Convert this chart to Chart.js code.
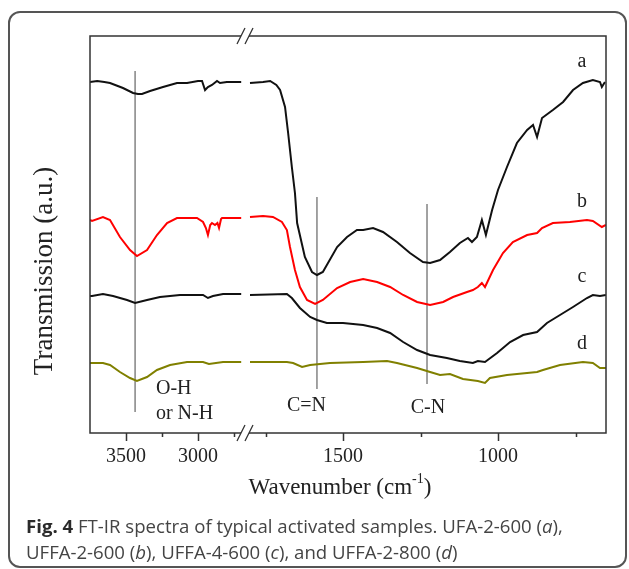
<!DOCTYPE html>
<html lang="en">
<head>
  <meta charset="UTF-8">
  <title>FT-IR spectra of typical activated samples</title>
  <script src="https://cdn.jsdelivr.net/npm/chart.js"></script>
  <style>
    html, body { margin: 0; padding: 0; background: #fff; }
    #wrap { position: absolute; left: 0; top: 0; width: 629px; height: 569px; }
    #frame {
      position: absolute; left: 8px; top: 11px; width: 615px; height: 553px;
      border: 2px solid #555; border-radius: 12px;
    }
    #caption {
      position: absolute; left: 26px; top: 513px; white-space: nowrap;
      font-family: 'Open Sans', sans-serif; font-size: 18.6px; line-height: 26px; color: #444;
    }
    #caption b { color: #2a2a2a; }
  </style>
</head>
<body>
  <div id="frame"></div>
  <div id="wrap"><canvas id="chart"></canvas></div>
  <div id="caption"><b>Fig. 4</b> FT-IR spectra of typical activated samples. UFA-2-600 (<i>a</i>),<br>UFFA-2-600 (<i>b</i>), UFFA-4-600 (<i>c</i>), and UFFA-2-800 (<i>d</i>)</div>

  <script>
    // x axis ticks (cm-1)
    const axisTicks = [3500, 3000, 1500, 1000];
    const minorTicks = [3250, 2750, 1750, 1250, 750];

    // spectra: wavenumber (cm-1) and transmission (a.u., offset per sample)
    const waveA = [3750, 3700, 3650, 3611, 3521, 3451, 3417, 3389, 3333, 3243, 3146, 3076, 3000, 2972, 2951, 2931, 2903, 2868, 2847, 2800, 2750, 2700,
      1800, 1758, 1735, 1715, 1703, 1687, 1677, 1665, 1655, 1648, 1623, 1600, 1584, 1565, 1519, 1487, 1455, 1435, 1403, 1371,
      1326, 1284, 1242, 1219, 1187, 1155, 1123, 1097, 1084, 1068, 1052, 1039, 1019, 1000, 971, 939, 906, 887, 874, 858,
      823, 790, 758, 726, 694, 671, 665, 655];
    const transA = [351, 352, 351, 350, 345, 340, 339, 339, 342, 346, 350, 350, 352, 352, 343, 346, 348, 352, 350, 351, 351, 351,
      350, 351, 352, 348, 343, 326, 300, 266, 240, 210, 176, 161, 158, 161, 186, 196, 203, 203, 205, 201,
      191, 180, 171, 170, 173, 181, 190, 195, 191, 196, 213, 198, 223, 243, 266, 290, 303, 308, 296, 315,
      323, 331, 343, 350, 353, 351, 346, 351];

    const waveB = [3750, 3736, 3660, 3611, 3542, 3472, 3424, 3354, 3285, 3215, 3146, 3007, 2965, 2945, 2931, 2915, 2903, 2882, 2865, 2854, 2840, 2833, 2700,
      1800, 1758, 1726, 1697, 1681, 1671, 1655, 1639, 1616, 1590, 1565, 1519, 1477, 1435, 1390, 1348, 1306, 1261, 1219, 1177,
      1145, 1100, 1081, 1065, 1052, 1042, 1016, 984, 952, 906, 874, 858, 823, 768, 713, 694, 665, 652];
    const transB = [213, 212, 216, 213, 196, 183, 177, 183, 198, 210, 215, 215, 211, 205, 198, 208, 210, 208, 210, 205, 214, 215, 215,
      216, 217, 216, 211, 203, 186, 163, 146, 133, 129, 133, 145, 151, 154, 151, 146, 138, 131, 128, 131,
      136, 141, 143, 146, 150, 146, 163, 180, 191, 198, 200, 205, 210, 211, 213, 212, 206, 208];

    const waveC = [3750, 3736, 3660, 3590, 3493, 3437, 3354, 3264, 3125, 2965, 2931, 2896, 2826, 2700,
      1800, 1681, 1665, 1639, 1606, 1584, 1552, 1500, 1435, 1390, 1348, 1306, 1261, 1219, 1165, 1123, 1081, 1065, 1042,
      1003, 961, 919, 874, 842, 800, 758, 713, 694, 671, 652];
    const transC = [137, 137, 139, 137, 133, 130, 133, 136, 138, 138, 135, 137, 139, 139,
      138, 139, 135, 125, 116, 113, 110, 110, 108, 105, 100, 91, 83, 78, 75, 72, 70, 72, 71,
      80, 91, 98, 101, 110, 118, 126, 135, 138, 137, 138];

    const waveD = [3750, 3736, 3660, 3611, 3542, 3472, 3424, 3354, 3285, 3194, 3076, 2965, 2924, 2826, 2700,
      1800, 1681, 1661, 1632, 1606, 1542, 1435, 1358, 1326, 1261, 1219, 1187, 1155, 1113, 1065, 1042, 1026,
      971, 874, 855, 800, 726, 694, 671, 652];
    const transD = [70, 70, 70, 68, 61, 55, 52, 56, 63, 68, 71, 71, 69, 71, 71,
      71, 71, 70, 66, 68, 70, 71, 72, 70, 65, 61, 58, 59, 54, 52, 50, 55,
      58, 61, 63, 68, 71, 70, 65, 65];

    // band marker lines
    const markWave = [3437, 1584, 1229];
    const markTop = [362, 236, 229];
    const markBottom = [21, 44, 49];

    const seriesNames = ['a', 'b', 'c', 'd'];
    const seriesColors = ['#111', '#ff0000', '#111', '#808000'];

    // broken axis: 3750-2700 on the left part, 1800-650 on the right part
    const AXIS_MAX = 516, BREAK_AXIS = 155, BREAK_W = 2250;
    function toAxis(w) {
      return w > BREAK_W ? (3750 - w) * 0.144 : 160 + (1800 - w) * 0.31;
    }

    function toPoints(wave, trans) {
      const pts = [];
      wave.forEach((w, i) => {
        if (i > 0 && wave[i - 1] > BREAK_W && w < BREAK_W) pts.push({ x: BREAK_AXIS, y: null });
        pts.push({ x: toAxis(w), y: trans[i] });
      });
      return pts;
    }

    const serif = '"Liberation Serif", "Times New Roman", serif';
    const spectra = [[waveA, transA], [waveB, transB], [waveC, transC], [waveD, transD]];
    const datasets = spectra.map(([w, t], i) => ({
      label: seriesNames[i], data: toPoints(w, t),
      borderColor: seriesColors[i], borderWidth: 2, pointRadius: 0, tension: 0
    }));
    markWave.forEach((w, i) => datasets.push({
      label: 'mark' + i,
      data: [{ x: toAxis(w), y: markTop[i] }, { x: toAxis(w), y: markBottom[i] }],
      borderColor: '#666', borderWidth: 1.2, pointRadius: 0
    }));

    const letterPos = { w: 729, t: [371, 231, 156, 89] };
    const notes = [
      { text: 'O-H', w: 3292, t: 44, align: 'left' },
      { text: 'or N-H', w: 3292, t: 19, align: 'left' },
      { text: 'C=N', w: 1618, t: 27, align: 'center' },
      { text: 'C-N', w: 1226, t: 25, align: 'center' }
    ];

    const decor = {
      id: 'decor',
      afterDatasetsDraw(chart) {
        const { ctx, chartArea: a, scales: { x, y } } = chart;
        ctx.save();
        ctx.strokeStyle = '#333';
        ctx.lineWidth = 1.5;
        ctx.strokeRect(a.left, a.top, a.right - a.left, a.bottom - a.top);

        ctx.beginPath();
        axisTicks.forEach(w => {
          const px = Math.round(x.getPixelForValue(toAxis(w))) + 0.5;
          ctx.moveTo(px, a.bottom); ctx.lineTo(px, a.bottom + 8);
        });
        minorTicks.forEach(w => {
          const px = Math.round(x.getPixelForValue(toAxis(w))) + 0.5;
          ctx.moveTo(px, a.bottom); ctx.lineTo(px, a.bottom + 4);
        });
        ctx.stroke();

        // axis break marks
        const bx = x.getPixelForValue(BREAK_AXIS);
        [a.top, a.bottom].forEach(by => {
          ctx.fillStyle = '#fff';
          ctx.fillRect(bx - 4, by - 2, 8, 4);
          ctx.beginPath();
          ctx.moveTo(bx - 8, by + 8); ctx.lineTo(bx, by - 8);
          ctx.moveTo(bx, by + 8); ctx.lineTo(bx + 8, by - 8);
          ctx.lineWidth = 1.3;
          ctx.stroke();
        });

        ctx.fillStyle = '#222';
        ctx.font = '20px ' + serif;
        ctx.textBaseline = 'middle';
        ctx.textAlign = 'center';
        seriesNames.forEach((s, i) => {
          ctx.fillText(s, x.getPixelForValue(toAxis(letterPos.w)), y.getPixelForValue(letterPos.t[i]));
        });
        notes.forEach(n => {
          ctx.textAlign = n.align;
          ctx.fillText(n.text, x.getPixelForValue(toAxis(n.w)), y.getPixelForValue(n.t));
        });

        // x title with superscript
        ctx.textAlign = 'left';
        ctx.font = '23px ' + serif;
        const main = 'Wavenumber (cm', sup = '-1', close = ')';
        const wMain = ctx.measureText(main).width, wClose = ctx.measureText(close).width;
        ctx.font = '14px ' + serif;
        const wSup = ctx.measureText(sup).width;
        const tx = a.left + 250 - (wMain + wSup + wClose) / 2;
        const ty = 488;
        ctx.font = '23px ' + serif;
        ctx.fillText(main, tx, ty);
        ctx.font = '14px ' + serif;
        ctx.fillText(sup, tx + wMain, ty - 9);
        ctx.font = '23px ' + serif;
        ctx.fillText(close, tx + wMain + wSup, ty);

        // y title
        ctx.translate(45, 271);
        ctx.rotate(-Math.PI / 2);
        ctx.textAlign = 'center';
        ctx.font = '27px ' + serif;
        ctx.fillText('Transmission (a.u.)', 0, 0);
        ctx.restore();
      }
    };

    new Chart(document.getElementById('chart'), {
      type: 'line',
      data: { datasets },
      options: {
        responsive: true, maintainAspectRatio: false, animation: false,
        layout: { padding: { left: 90, top: 36, right: 23, bottom: 0 } },
        plugins: { legend: { display: false }, tooltip: { enabled: false } },
        scales: {
          x: {
            type: 'linear', min: 0, max: AXIS_MAX,
            grid: { display: false, drawTicks: false },
            border: { display: false },
            afterBuildTicks: s => { s.ticks = axisTicks.map(w => ({ value: toAxis(w) })); },
            afterFit: s => { s.height = 136; },
            ticks: {
              padding: 12, color: '#222', maxRotation: 0, autoSkip: false,
              font: { family: serif, size: 20 },
              callback: v => {
                const w = axisTicks.find(t => Math.abs(toAxis(t) - v) < 0.01);
                return w === undefined ? '' : String(w);
              }
            }
          },
          y: { display: false, min: 0, max: 397 }
        }
      },
      plugins: [decor]
    });
  </script>
</body>
</html>
